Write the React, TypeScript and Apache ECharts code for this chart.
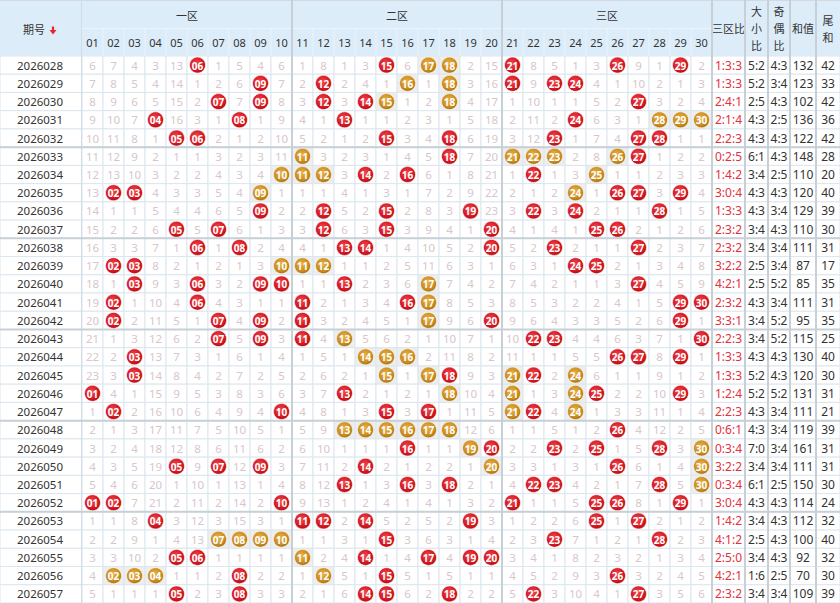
import React, { useEffect, useRef } from "react";
import * as echarts from "echarts";

const periods = [
  "2026028", "2026029", "2026030", "2026031", "2026032",
  "2026033", "2026034", "2026035", "2026036", "2026037",
  "2026038", "2026039", "2026040", "2026041", "2026042",
  "2026043", "2026044", "2026045", "2026046", "2026047",
  "2026048", "2026049", "2026050", "2026051", "2026052",
  "2026053", "2026054", "2026055", "2026056", "2026057",
];

const numberLabels = [
  "01", "02", "03", "04", "05", "06", "07", "08", "09", "10",
  "11", "12", "13", "14", "15", "16", "17", "18", "19", "20",
  "21", "22", "23", "24", "25", "26", "27", "28", "29", "30",
];

const zoneTitles = ["一区", "二区", "三区"];
const statTitles = ["三区比", "大\n小\n比", "奇\n偶\n比", "和值", "尾\n和"];

// omission counts; 0 = number drawn in that period (ball)
const omissions = [
  [6, 7, 4, 3, 13, 0, 1, 5, 4, 6, 1, 8, 1, 3, 0, 6, 0, 0, 2, 15, 0, 8, 5, 1, 3, 0, 9, 1, 0, 2],
  [7, 8, 5, 4, 14, 1, 2, 6, 0, 7, 2, 0, 2, 4, 1, 0, 1, 0, 3, 16, 0, 9, 0, 0, 4, 1, 10, 2, 1, 3],
  [8, 9, 6, 5, 15, 2, 0, 7, 0, 8, 3, 0, 3, 0, 0, 1, 2, 0, 4, 17, 1, 10, 1, 1, 5, 2, 0, 3, 2, 4],
  [9, 10, 7, 0, 16, 3, 1, 0, 1, 9, 4, 1, 0, 1, 1, 2, 3, 1, 5, 18, 2, 11, 2, 0, 6, 3, 1, 0, 0, 0],
  [10, 11, 8, 1, 0, 0, 2, 1, 2, 10, 5, 2, 1, 2, 0, 3, 4, 0, 6, 19, 3, 12, 0, 1, 7, 4, 0, 0, 1, 1],
  [11, 12, 9, 2, 1, 1, 3, 2, 3, 11, 0, 3, 2, 3, 1, 4, 5, 0, 7, 20, 0, 0, 0, 2, 8, 0, 0, 1, 2, 2],
  [12, 13, 10, 3, 2, 2, 4, 3, 4, 0, 0, 0, 3, 0, 2, 0, 6, 1, 8, 21, 1, 0, 1, 3, 0, 1, 1, 2, 3, 3],
  [13, 0, 0, 4, 3, 3, 5, 4, 0, 1, 1, 1, 4, 1, 3, 1, 7, 2, 9, 22, 2, 1, 2, 0, 1, 0, 0, 3, 0, 4],
  [14, 1, 1, 5, 4, 4, 6, 5, 0, 2, 2, 0, 5, 2, 0, 2, 8, 3, 0, 23, 3, 0, 3, 0, 2, 1, 1, 0, 1, 5],
  [15, 2, 2, 6, 0, 5, 0, 6, 1, 3, 3, 0, 6, 3, 0, 3, 9, 4, 1, 0, 4, 1, 4, 1, 0, 0, 2, 1, 2, 6],
  [16, 3, 3, 7, 1, 0, 1, 0, 2, 4, 4, 1, 0, 0, 1, 4, 10, 5, 2, 0, 5, 2, 0, 2, 1, 1, 0, 2, 3, 7],
  [17, 0, 0, 8, 2, 1, 2, 1, 3, 0, 0, 0, 1, 1, 2, 5, 11, 6, 3, 1, 6, 3, 1, 0, 0, 2, 1, 3, 4, 8],
  [18, 1, 0, 9, 3, 0, 3, 2, 0, 0, 1, 1, 0, 2, 3, 6, 0, 7, 4, 2, 7, 4, 2, 1, 1, 3, 0, 4, 5, 9],
  [19, 0, 1, 10, 4, 0, 4, 3, 1, 1, 0, 2, 1, 3, 4, 0, 0, 8, 5, 3, 8, 5, 3, 2, 2, 4, 1, 5, 0, 0],
  [20, 0, 2, 11, 5, 1, 0, 4, 0, 2, 0, 3, 2, 4, 5, 1, 0, 9, 6, 0, 9, 6, 4, 3, 3, 5, 2, 6, 0, 1],
  [21, 1, 3, 12, 6, 2, 0, 5, 0, 3, 0, 4, 0, 5, 6, 2, 1, 10, 7, 1, 10, 0, 0, 4, 4, 6, 3, 7, 1, 0],
  [22, 2, 0, 13, 7, 3, 1, 6, 1, 4, 1, 5, 1, 0, 0, 0, 2, 11, 8, 2, 11, 1, 1, 5, 5, 0, 0, 8, 0, 1],
  [23, 3, 0, 14, 8, 4, 2, 7, 2, 5, 2, 6, 2, 1, 0, 1, 0, 0, 9, 3, 0, 0, 2, 0, 6, 1, 1, 9, 1, 2],
  [0, 4, 1, 15, 9, 5, 3, 8, 3, 6, 3, 7, 0, 2, 1, 2, 1, 0, 10, 4, 0, 1, 3, 0, 0, 2, 2, 10, 0, 3],
  [1, 0, 2, 16, 10, 6, 4, 9, 4, 0, 4, 8, 1, 3, 0, 3, 0, 1, 11, 5, 0, 0, 4, 0, 1, 3, 3, 11, 1, 4],
  [2, 1, 3, 17, 11, 7, 5, 10, 5, 1, 5, 9, 0, 0, 0, 0, 0, 0, 12, 6, 1, 1, 5, 1, 2, 0, 4, 12, 2, 5],
  [3, 2, 4, 18, 12, 8, 6, 11, 6, 2, 6, 10, 1, 1, 1, 0, 1, 1, 0, 0, 2, 2, 0, 2, 0, 1, 5, 0, 3, 0],
  [4, 3, 5, 19, 0, 9, 0, 12, 0, 3, 7, 11, 2, 0, 2, 1, 2, 2, 1, 0, 3, 3, 1, 3, 1, 0, 6, 1, 4, 0],
  [5, 4, 6, 20, 1, 10, 1, 13, 1, 4, 8, 12, 0, 1, 3, 0, 3, 0, 2, 1, 4, 0, 0, 4, 2, 1, 7, 0, 5, 0],
  [0, 0, 7, 21, 2, 11, 2, 14, 2, 0, 9, 13, 1, 2, 4, 1, 4, 1, 3, 2, 0, 1, 1, 5, 0, 0, 8, 1, 0, 1],
  [1, 1, 8, 0, 3, 12, 3, 15, 3, 1, 0, 0, 2, 0, 5, 2, 5, 2, 0, 3, 1, 2, 2, 6, 0, 1, 0, 2, 1, 2],
  [2, 2, 9, 1, 4, 13, 0, 0, 0, 0, 1, 1, 3, 1, 0, 3, 6, 3, 1, 4, 2, 3, 0, 7, 1, 2, 1, 0, 2, 3],
  [3, 3, 10, 2, 0, 0, 1, 1, 1, 1, 0, 2, 4, 0, 1, 4, 0, 4, 0, 0, 3, 4, 1, 8, 2, 3, 2, 1, 3, 4],
  [4, 0, 0, 0, 1, 1, 2, 0, 2, 2, 1, 0, 5, 1, 0, 5, 1, 5, 1, 1, 4, 5, 2, 9, 3, 0, 3, 2, 4, 5],
  [5, 1, 1, 1, 0, 2, 3, 0, 3, 3, 2, 1, 6, 0, 0, 6, 2, 0, 2, 2, 5, 0, 3, 10, 4, 1, 0, 3, 5, 6],
];

// drawn numbers shown as bronze balls (others are red)
const bronze = [
  [17, 18], [16, 18], [15, 18], [28, 29, 30], [],
  [11, 21, 22, 23, 26], [10, 11, 12, 25], [9, 24], [], [],
  [], [10, 11, 12], [17], [17], [17],
  [13], [14, 15, 16], [15, 17, 21, 24], [18, 21, 24], [21, 24],
  [13, 14, 15, 16, 17, 18], [19, 30], [20, 30], [30], [],
  [], [7, 8, 9, 10], [11], [2, 3, 4, 12], [],
];

const zoneRatio = [
  "1:3:3", "1:3:3", "2:4:1", "2:1:4", "2:2:3", "0:2:5", "1:4:2", "3:0:4", "1:3:3", "2:3:2",
  "2:3:2", "3:2:2", "4:2:1", "2:3:2", "3:3:1", "2:2:3", "1:3:3", "1:3:3", "1:2:4", "2:2:3",
  "0:6:1", "0:3:4", "3:2:2", "0:3:4", "3:0:4", "1:4:2", "4:1:2", "2:5:0", "4:2:1", "2:3:2",
];
const bigSmall = [
  "5:2", "5:2", "2:5", "4:3", "4:3", "6:1", "3:4", "4:3", "4:3", "3:4",
  "3:4", "2:5", "2:5", "4:3", "3:4", "3:4", "4:3", "5:2", "5:2", "4:3",
  "4:3", "7:0", "3:4", "6:1", "4:3", "3:4", "2:5", "3:4", "1:6", "3:4",
];
const oddEven = [
  "4:3", "3:4", "4:3", "2:5", "4:3", "4:3", "2:5", "4:3", "3:4", "4:3",
  "3:4", "3:4", "5:2", "3:4", "5:2", "5:2", "4:3", "4:3", "5:2", "3:4",
  "3:4", "3:4", "3:4", "2:5", "4:3", "4:3", "4:3", "4:3", "2:5", "3:4",
];
const sums = [
  132, 123, 102, 136, 122, 148, 110, 120, 129, 110,
  111, 87, 85, 111, 95, 115, 130, 120, 131, 111,
  119, 161, 111, 150, 114, 112, 100, 92, 70, 109,
];
const tailSums = [
  42, 33, 42, 36, 42, 28, 20, 40, 39, 30,
  31, 17, 35, 31, 35, 25, 40, 30, 31, 21,
  39, 31, 31, 30, 24, 32, 40, 32, 30, 39,
];

// ---------- layout / style ----------
const FONT = '"Noto Sans", "Noto Sans CJK SC", sans-serif';
const TOTAL_W = 840;
const TOTAL_H = 603;
const TOP = 56;
const BODY_H = TOTAL_H - TOP;
const columns = [
  { left: 0, width: 82 },
  { left: 82, width: 630 },
  { left: 712, width: 33 },
  { left: 745, width: 23 },
  { left: 768, width: 22 },
  { left: 790, width: 26 },
  { left: 816, width: 24 },
];
const HEADER_BG = "#dcedf9";
const CELL_LINE = "#dce6ee";
const DIVIDER = "#c7cfd7";
const OMIT_COLOR = "#d7c6cc";
const TEXT = "#333333";
const RED_TEXT = "#e3303d";

const redBall = new echarts.graphic.RadialGradient(0.45, 0.4, 0.65, [
  { offset: 0, color: "#f24a50" },
  { offset: 0.7, color: "#d3141d" },
  { offset: 1, color: "#a90c12" },
]);
const bronzeBall = new echarts.graphic.RadialGradient(0.45, 0.4, 0.65, [
  { offset: 0, color: "#e9b24a" },
  { offset: 0.7, color: "#c98a1c" },
  { offset: 1, color: "#9a6206" },
]);

function frame(api: any, c: number, r: number) {
  const p = api.coord([c, r]);
  const s = api.size([1, 1]);
  return { cx: p[0], cy: p[1], x: p[0] - s[0] / 2, y: p[1] - s[1] / 2, w: s[0], h: s[1] };
}

function textEl(x: number, y: number, text: string, fill: string, size: number, weight = "normal") {
  return {
    type: "text",
    x,
    y,
    style: {
      text,
      fill,
      fontSize: size,
      fontFamily: FONT,
      fontWeight: weight,
      align: "center",
      verticalAlign: "middle",
      textAlign: "center",
      textVerticalAlign: "middle",
    },
  };
}

function rectEl(f: any, fill: string) {
  return {
    type: "rect",
    shape: { x: f.x, y: f.y, width: f.w, height: f.h },
    style: { fill, stroke: CELL_LINE, lineWidth: 1 },
  };
}

export default function App() {
  const ref = useRef<HTMLDivElement>(null);

  useEffect(() => {
    document.body.style.margin = "0";
    if (!ref.current) return;
    const chart = echarts.init(ref.current, undefined, { renderer: "svg" });

    const rowIdx = periods.map((_, i) => i);

    const grid = columns.map((c) => ({ left: c.left, top: TOP, width: c.width, height: BODY_H }));

    const xAxis = columns.map((c, i) => ({
      gridIndex: i,
      type: "category",
      data: i === 1 ? numberLabels : [i === 0 ? "期号" : statTitles[i - 2]],
      position: "top",
      show: i === 1,
      z: 10,
      axisLine: { show: false },
      axisTick: { show: false },
      splitLine: { show: false },
      axisLabel: {
        interval: 0,
        color: TEXT,
        fontSize: 11,
        fontFamily: FONT,
        verticalAlign: "middle",
        margin: 14,
      },
    }));

    const yAxis = columns.map((c, i) => ({
      gridIndex: i,
      type: "category",
      data: periods,
      inverse: true,
      show: false,
    }));

    const series: any[] = [];

    // 期号 column
    series.push({
      type: "custom",
      xAxisIndex: 0,
      yAxisIndex: 0,
      encode: { x: 0, y: 1 },
      data: rowIdx.map((r) => [0, r]),
      renderItem: (params: any, api: any) => {
        const r = api.value(1);
        const f = frame(api, 0, r);
        return {
          type: "group",
          children: [rectEl(f, "#ffffff"), textEl(f.cx - 1, f.cy, periods[r], TEXT, 11.5)],
        };
      },
    });

    // number grid
    const cells: number[][] = [];
    omissions.forEach((row, r) => row.forEach((v, c) => cells.push([c, r, v])));
    series.push({
      type: "custom",
      xAxisIndex: 1,
      yAxisIndex: 1,
      encode: { x: 0, y: 1 },
      data: cells,
      renderItem: (params: any, api: any) => {
        const c = api.value(0);
        const r = api.value(1);
        const v = omissions[r][c];
        const f = frame(api, c, r);
        const isBronze = bronze[r].indexOf(c + 1) >= 0;
        const children: any[] = [rectEl(f, v === 0 && isBronze ? "#eeeeee" : "#ffffff")];
        if (v !== 0) {
          children.push(textEl(f.cx, f.cy, String(v), OMIT_COLOR, 11.5));
        } else {
          children.push({
            type: "circle",
            shape: { cx: f.cx, cy: f.cy, r: 8 },
            style: { fill: isBronze ? bronzeBall : redBall, stroke: "#ffffff", lineWidth: 0.6 },
          });
          children.push(textEl(f.cx, f.cy + 0.5, numberLabels[c], "#ffffff", 10, "bold"));
        }
        return { type: "group", children };
      },
    });

    // stat columns
    const statData = [zoneRatio, bigSmall, oddEven, sums, tailSums];
    statData.forEach((arr, k) => {
      series.push({
        type: "custom",
        xAxisIndex: k + 2,
        yAxisIndex: k + 2,
        encode: { x: 0, y: 1 },
        data: rowIdx.map((r) => [0, r]),
        renderItem: (params: any, api: any) => {
          const r = api.value(1);
          const f = frame(api, 0, r);
          return {
            type: "group",
            children: [
              rectEl(f, "#ffffff"),
              textEl(f.cx, f.cy, String(arr[r]), k === 0 ? RED_TEXT : TEXT, 12),
            ],
          };
        },
      });
    });

    // header + dividers (layout decorations)
    const rowH = BODY_H / periods.length;
    const graphic: any[] = [];
    graphic.push({
      type: "rect",
      z: 0,
      shape: { x: 0, y: 0, width: TOTAL_W, height: TOP },
      style: { fill: HEADER_BG },
    });
    graphic.push({
      type: "line",
      z: 5,
      shape: { x1: 0, y1: 0.5, x2: TOTAL_W, y2: 0.5 },
      style: { stroke: "#d3d9de", lineWidth: 1 },
    });
    graphic.push({
      type: "line",
      z: 5,
      shape: { x1: 82, y1: 28.5, x2: 712, y2: 28.5 },
      style: { stroke: "#eef6fc", lineWidth: 1 },
    });
    const numW = columns[1].width / numberLabels.length;
    numberLabels.forEach((_, i) => {
      if (i === 0) return;
      graphic.push({
        type: "line",
        z: 5,
        shape: { x1: 82 + i * numW, y1: 29, x2: 82 + i * numW, y2: TOP },
        style: { stroke: "#eaf3fa", lineWidth: 1 },
      });
    });
    graphic.push({
      type: "line",
      z: 5,
      shape: { x1: 81.5, y1: 0, x2: 81.5, y2: TOTAL_H },
      style: { stroke: "#cfdbe5", lineWidth: 1 },
    });
    // header texts
    const hText = (x: number, y: number, text: string, lh = 17) => ({
      type: "text",
      z: 10,
      x,
      y,
      style: {
        text,
        fill: TEXT,
        fontSize: 11,
        fontFamily: FONT,
        lineHeight: lh,
        align: "center",
        verticalAlign: "middle",
        textAlign: "center",
        textVerticalAlign: "middle",
      },
    });
    graphic.push(hText(34, 29, "期号"));
    graphic.push({
      type: "rect",
      z: 10,
      shape: { x: 51.9, y: 26.5, width: 2.2, height: 4 },
      style: { fill: "#e8262f" },
    });
    graphic.push({
      type: "polygon",
      z: 10,
      shape: { points: [[49.5, 30], [56.5, 30], [53, 34.5]] },
      style: { fill: "#e8262f" },
    });
    zoneTitles.forEach((t, i) => {
      graphic.push(hText(82 + (i + 0.5) * columns[1].width / 3, 15, t));
    });
    statTitles.forEach((t, i) => {
      const c = columns[i + 2];
      graphic.push(hText(c.left + c.width / 2, 28.5, t));
    });
    // thick vertical dividers
    const vx = [82 + columns[1].width / 3, 82 + (2 * columns[1].width) / 3, 712, 745, 768, 790, 816];
    vx.forEach((x) => {
      graphic.push({
        type: "line",
        z: 50,
        shape: { x1: x, y1: 0, x2: x, y2: TOTAL_H },
        style: { stroke: DIVIDER, lineWidth: 2 },
      });
    });
    // group separators every 5 rows
    for (let k = 5; k < periods.length; k += 5) {
      const y = TOP + k * rowH;
      graphic.push({
        type: "line",
        z: 50,
        shape: { x1: 0, y1: y, x2: TOTAL_W, y2: y },
        style: { stroke: DIVIDER, lineWidth: 2 },
      });
    }

    chart.setOption({
      animation: false,
      backgroundColor: "#ffffff",
      grid,
      xAxis,
      yAxis,
      series,
      graphic,
    } as any);

    return () => chart.dispose();
  }, []);

  return <div ref={ref} style={{ width: TOTAL_W, height: TOTAL_H }} />;
}
